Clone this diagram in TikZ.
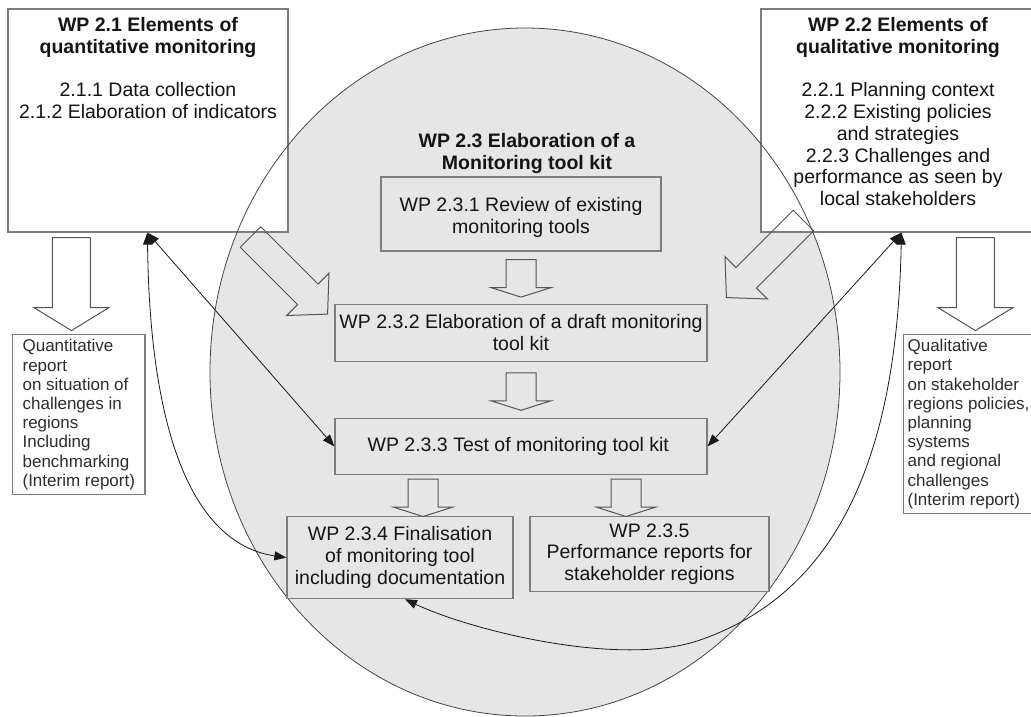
\documentclass[tikz,border=0pt]{standalone}
\usepackage{fontspec}
\setmainfont{Liberation Sans}
\usetikzlibrary{
  arrows.meta,
  positioning,
  calc
}
\definecolor{ovalfill}{RGB}{230, 230, 230}
\definecolor{ovalline}{RGB}{70, 70, 70}
\definecolor{boxline}{RGB}{125, 125, 125}
\definecolor{arrowline}{RGB}{85, 85, 85}
\definecolor{linkcolor}{RGB}{25, 25, 25}
\definecolor{wptextcolor}{RGB}{20, 20, 20}
\definecolor{reporttext}{RGB}{45, 45, 45}
\newcommand{\wpfont}{\fontsize{19.5}{21.7}\selectfont}
\newcommand{\reportfont}{\fontsize{17}{19.2}\selectfont}
\tikzset{
wpbox/.style={
  draw=boxline,
  line width=1.2pt,
  fill=white
},
wptext/.style={
  align=center,
  font=\wpfont,
  text=wptextcolor,
  inner sep=0pt,
  anchor=north
},
stepbox/.style={
  draw=boxline,
  line width=1.2pt,
  fill=ovalfill,
  align=center,
  font=\wpfont,
  text=wptextcolor,
  inner sep=2pt
},
reportbox/.style={
  draw=boxline,
  line width=1.2pt,
  fill=white,
  align=left,
  font=\reportfont,
  text=reporttext,
  anchor=north west
},
blockline/.style={
  draw=arrowline,
  line width=1pt,
  line join=miter
},
twoway/.style={
  {Triangle[length=12pt,width=9pt]}-{Triangle[length=12pt,width=9pt]},
  line width=0.8pt,
  draw=linkcolor
},
smalldown/.pic={
  \draw[blockline] (-15,0) -- (15,0) -- (15,28) -- (30,28) -- (0,37.5)
    -- (-30,28) -- (-15,28) -- cycle;
},
bigdown/.pic={
  \draw[blockline] (-19,0) -- (19,0) -- (19,70) -- (37.5,70) -- (0,93)
    -- (-37.5,70) -- (-19,70) -- cycle;
},
slantarrow/.pic={
  \draw[blockline] (0,-14.5) -- (81,-14.5) -- (81,-30) -- (109,0)
    -- (81,30) -- (81,14.5) -- (0,14.5) -- cycle;
}
}

\begin{document}
\begin{tikzpicture}[x=1pt, y=-1pt]
  \useasboundingbox (0,0) rectangle (1031,716);
  % oval of WP 2.3, outline drawn later over the boxes
  \fill[ovalfill] (525,372) ellipse [x radius=315, y radius=344];

  % WP 2.1 and WP 2.2
  \node[wpbox, minimum width=280pt, minimum height=223pt] (wp21) at (148,120.5) {};
  \node[wptext] (wp21t) at (148,17.5) {
    \textbf{WP 2.1 Elements of}\\
    \textbf{quantitative monitoring}\\[21.7pt]
    2.1.1 Data collection\\
    2.1.2 Elaboration of indicators
  };
  \node[wpbox, minimum width=274pt, minimum height=223pt] (wp22) at (898,120.5) {};
  \node[wptext] (wp22t) at (898,17.5) {
    \textbf{WP 2.2 Elements of}\\
    \textbf{qualitative monitoring}\\[21.7pt]
    2.2.1 Planning context\\
    2.2.2 Existing policies\\
    and strategies\\
    2.2.3 Challenges and\\
    performance as seen by\\
    local stakeholders
  };

  \draw[ovalline, line width=0.8pt] (525,372) ellipse [x radius=315, y radius=344];

  % WP 2.3 steps
  \node[wptext] (wp23t) at (527,133.5) {
    \textbf{WP 2.3 Elaboration of a}\\
    \textbf{Monitoring tool kit}
  };
  \node[stepbox, minimum width=280pt, minimum height=74pt] (wp231) at (521,214) {
    \mbox{}\\WP 2.3.1 Review of existing\\monitoring tools
  };
  \node[stepbox, minimum width=372pt, minimum height=57pt, below=52pt of wp231] (wp232) {
    WP 2.3.2 Elaboration of a draft monitoring\\tool kit
  };
  \node[stepbox, minimum width=372pt, minimum height=56pt, below=56pt of wp232] (wp233) {
    WP 2.3.3 Test of monitoring tool kit
  };
  \node[stepbox, minimum width=226pt, minimum height=82pt, anchor=north west] (wp234)
    at ($(wp233.south west)+(-48,41)$) {
    WP 2.3.4 Finalisation\\of monitoring tool\\including documentation
  };
  \node[stepbox, minimum width=239pt, minimum height=75pt, anchor=north east] (wp235)
    at ($(wp233.south east)+(62,41)$) {
    WP 2.3.5\\Performance reports for\\stakeholder regions
  };

  % reports
  \node[reportbox, inner xsep=10pt, minimum height=160pt] (rep21) at (12,334) {
    Quantitative\\report\\on situation of\\challenges in\\regions\\Including\\benchmarking\\(Interim report)
  };
  \node[reportbox, inner xsep=4pt, minimum height=179pt] (rep22) at (903,334) {
    Qualitative\\report\\on stakeholder\\regions policies,\\planning\\systems\\and regional\\challenges\\(Interim report)
  };

  % block arrows
  \pic at ($(wp21.south west)+(64,5)$) {bigdown};
  \pic at ($(wp22.south west)+(215,5)$) {bigdown};
  \pic[rotate=-45] at (250.5,237) {slantarrow};
  \pic[rotate=-135] at (803.5,220.5) {slantarrow};
  \pic at ($(wp231.south)+(0,8)$) {smalldown};
  \pic at ($(wp232.south)+(0,11)$) {smalldown};
  \pic at ($(wp233.south)+(-98,4)$) {smalldown};
  \pic at ($(wp233.south)+(105,4)$) {smalldown};

  % feedback links
  \coordinate (top21) at ($(wp21.south west)+(140,0)$);
  \coordinate (top22) at ($(wp22.south west)+(141,0)$);
  \coordinate (bot234) at ($(wp234.south)+(5,0)$);
  \draw[twoway] (top21) -- (wp233.west);
  \draw[twoway] (top21) .. controls (150,450) and (200,545) .. (wp234.west);
  \draw[twoway] (top22) -- (wp233.east);
  \draw[twoway] (top22) .. controls (897,470) and (830,595) .. (700,640)
    .. controls (620,668) and (470,630) .. (bot234);
\end{tikzpicture}
\end{document}
